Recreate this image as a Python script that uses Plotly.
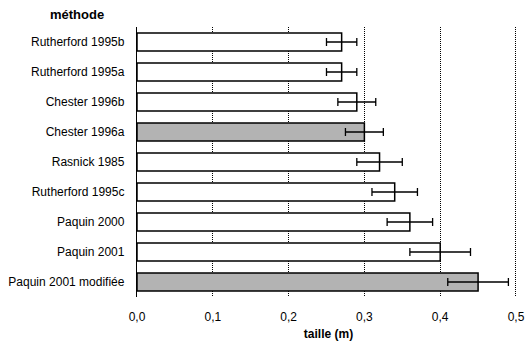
import plotly.graph_objects as go

categories = ["Rutherford 1995b", "Rutherford 1995a", "Chester 1996b", "Chester 1996a",
              "Rasnick 1985", "Rutherford 1995c", "Paquin 2000", "Paquin 2001",
              "Paquin 2001 modifiée"]
values = [0.27, 0.27, 0.29, 0.30, 0.32, 0.34, 0.36, 0.40, 0.45]
errors = [0.02, 0.02, 0.025, 0.025, 0.03, 0.03, 0.03, 0.04, 0.04]
highlighted = [False, False, False, True, False, False, False, False, True]
x_ticks = [0.0, 0.1, 0.2, 0.3, 0.4, 0.5]
x_tick_labels = ["0,0", "0,1", "0,2", "0,3", "0,4", "0,5"]

colors = ["#b3b3b3" if h else "#ffffff" for h in highlighted]
font = "Liberation Sans, Arial, sans-serif"

fig = go.Figure(go.Bar(
    y=categories, x=values, orientation="h",
    marker=dict(color=colors, line=dict(color="black", width=1.5)),
    error_x=dict(type="data", array=errors, visible=True, color="black",
                 thickness=1.3, width=4),
    width=0.6,
))

fig.update_layout(
    width=531, height=351,
    margin=dict(l=137, r=11, t=27, b=54, autoexpand=False),
    paper_bgcolor="white", plot_bgcolor="white",
    showlegend=False,
    font=dict(family=font, size=12, color="black"),
    title=dict(text="<b>méthode</b>", xref="container", yref="container",
               x=50 / 531, y=1 - 14 / 351, xanchor="left", yanchor="middle",
               font=dict(size=13, family=font, color="black")),
    xaxis=dict(range=[0, 0.5053], tickvals=x_ticks, ticktext=x_tick_labels,
               showgrid=True, gridcolor="black", griddash="1px,1px", gridwidth=1,
               zeroline=False, showline=False, ticks="", ticklabelstandoff=11,
               title=dict(text="<b>taille (m)</b>", font=dict(size=12), standoff=6),
               automargin=False, fixedrange=True),
    yaxis=dict(autorange="reversed", showline=True, linecolor="black", linewidth=1.3,
               ticks="", ticklabelstandoff=9, showgrid=False, zeroline=False,
               automargin=False),
)

fig.write_html("out.html")
